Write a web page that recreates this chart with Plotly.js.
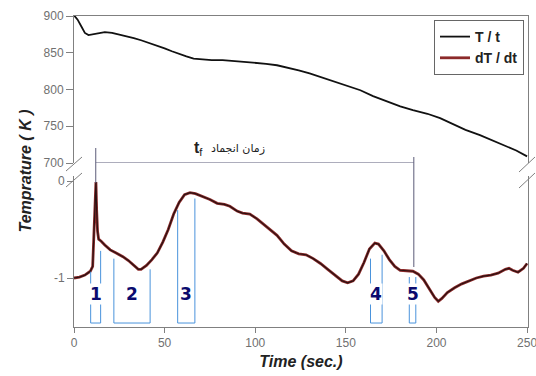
<!DOCTYPE html>
<html>
<head>
<meta charset="utf-8">
<script src="https://cdn.plot.ly/plotly-3.0.1.min.js"></script>
<style>html,body{margin:0;padding:0;background:#fff;}#chart{width:536px;height:376px;}</style>
</head>
<body>
<div id="chart"></div>
<script>
// ---------------- data ----------------
var tempTime = [0,2,4,6,8,10,13,17,21,25,29,33,37,42,46,50,54,58,62,66,70,76,82,88,94,100,106,112,118,124,130,136,143,150,158,165,172,180,187,195,202,209,216,224,231,238,244,250];
var tempValues = [901,895,886,877,874,875,877,878,877,875,873,870,867,863,860,856,852,848,845,842,841,840,840,839,838,836,835,833,830,826,822,817,812,806,799,791,784,777,772,767,761,753,745,738,731,724,717,709];

var rateTime = [0,3,6,9,10.3,11,11.6,12.1,12.5,13,13.6,15,17,20,23,27,30,33,35.5,37,40,43,46,49,52,55,58,61,64,67,71,75,79,83,86,90,93,97,101,105,109,112,116,120,124,128,132,136,140,144,148,151,154,157,160,163,166,168,171,174,177,180,184,187,190,193,196,199,201,203,206,210,214,218,222,226,230,234,238,240,242,245,248,250];
var rateValues = [-1.00,-0.99,-0.97,-0.93,-0.88,-0.60,-0.30,-0.01,-0.30,-0.52,-0.60,-0.62,-0.66,-0.71,-0.74,-0.78,-0.82,-0.87,-0.91,-0.91,-0.87,-0.81,-0.74,-0.63,-0.50,-0.34,-0.22,-0.14,-0.12,-0.13,-0.16,-0.19,-0.23,-0.24,-0.26,-0.31,-0.33,-0.34,-0.39,-0.45,-0.51,-0.56,-0.65,-0.72,-0.75,-0.76,-0.80,-0.85,-0.91,-0.97,-1.03,-1.05,-1.03,-0.96,-0.84,-0.70,-0.64,-0.65,-0.72,-0.81,-0.88,-0.92,-0.93,-0.93,-0.96,-1.02,-1.11,-1.20,-1.24,-1.21,-1.15,-1.10,-1.06,-1.03,-1.00,-0.98,-0.97,-0.95,-0.91,-0.90,-0.92,-0.94,-0.90,-0.85];

var seriesNames = ['T / t', 'dT / dt'];

// freezing-time marker
var tfStart = 12;
var tfEnd = 187.5;
var tfLabel = 'زمان انجماد';

// numbered regions (brackets)
var regionLabels = ['1','2','3','4','5'];
var regionStart = [9.2, 22, 57.2, 163.6, 185];
var regionEnd = [14.7, 42, 66.7, 170, 188.6];
var regionLeftTop = [-0.935, -0.80, -0.30, -0.80, -0.99];
var regionRightTop = [-0.72, -0.91, -0.18, -0.76, -0.99];
var regionBottom = -1.464;
var regionLabelLevel = -1.165;

// tick labels
var xTicks = [0,50,100,150,200,250];
var tempTicks = [700,750,800,850,900];
var rateTicks = [0,-1];
var rateTickText = ['0','-1'];

// ---------------- layout helpers ----------------
var W = 536, H = 376, L = 74, R = 8, T = 16, B = 49;
var pw = W - L - R, ph = H - T - B;
function px(x){ return (x - L) / pw; }
function py(y){ return (H - B - y) / ph; }

var axisGray = '#808080';
var tickFont = {family:'Liberation Sans, Arial, sans-serif', size:12, color:'#707070'};

var traces = [];
traces.push({x: tempTime, y: tempValues, xaxis:'x2', yaxis:'y2', type:'scatter', mode:'lines',
  name: seriesNames[0], line:{color:'#111111', width:1.8}, legendrank:1});
traces.push({x: rateTime, y: rateValues, xaxis:'x', yaxis:'y', type:'scatter', mode:'lines',
  name: seriesNames[1], line:{color:'#8c2a2a', width:2.8}, legendrank:2});
traces.push({x: rateTime, y: rateValues, xaxis:'x', yaxis:'y', type:'scatter', mode:'lines',
  showlegend:false, hoverinfo:'skip', line:{color:'#2b1212', width:1.2}});

var annotations = [];
for (var i = 0; i < regionLabels.length; i++) {
  traces.push({
    x: [regionStart[i], regionStart[i], regionEnd[i], regionEnd[i]],
    y: [regionLeftTop[i], regionBottom, regionBottom, regionRightTop[i]],
    xaxis:'x', yaxis:'y', type:'scatter', mode:'lines', showlegend:false, hoverinfo:'skip',
    line:{color:'#4a93dc', width:1}
  });
  annotations.push({
    x: (regionStart[i] + regionEnd[i]) / 2, y: regionLabelLevel, xref:'x', yref:'y',
    xanchor:'center', yanchor:'middle',
    text: '<b>' + regionLabels[i] + '</b>', showarrow:false, bgcolor:'#ffffff', borderpad:0,
    font:{family:'DejaVu Sans, sans-serif', size:17, color:'#0b0b6e'}
  });
}

annotations.push({
  x: px(24.5), y: py(171), xref:'paper', yref:'paper', textangle:-90, showarrow:false,
  xanchor:'center', yanchor:'middle',
  text:'<b><i>Temprature ( K )</i></b>',
  font:{family:'Liberation Sans, Arial, sans-serif', size:16, color:'#222222'}
});
annotations.push({
  x: px(198), y: py(149), xref:'paper', yref:'paper', showarrow:false,
  xanchor:'center', yanchor:'middle',
  text:'<b>t</b><sub>f</sub>',
  font:{family:'Liberation Sans, Arial, sans-serif', size:16, color:'#222222'}
});
annotations.push({
  x: px(238), y: py(148), xref:'paper', yref:'paper', showarrow:false,
  xanchor:'center', yanchor:'middle',
  text: tfLabel,
  font:{family:'DejaVu Sans, sans-serif', size:11, color:'#222222'}
});

var markerColor = '#5b5b78';
var shapes = [
  {type:'line', xref:'x', yref:'y2', x0:tfStart, x1:tfEnd, y0:700, y1:700, line:{color:markerColor, width:1}},
  {type:'line', xref:'x', yref:'paper', x0:tfStart, x1:tfStart, y0:py(148), y1:py(183), line:{color:markerColor, width:1}},
  {type:'line', xref:'x', yref:'paper', x0:tfEnd, x1:tfEnd, y0:py(157), y1:py(267), line:{color:markerColor, width:1}},
  // axis break marks
  {type:'line', xref:'paper', yref:'paper', x0:px(66), y0:py(171), x1:px(82), y1:py(157), line:{color:axisGray, width:1}},
  {type:'line', xref:'paper', yref:'paper', x0:px(66), y0:py(187), x1:px(82), y1:py(173), line:{color:axisGray, width:1}},
  {type:'line', xref:'paper', yref:'paper', x0:px(519), y0:py(172), x1:px(535), y1:py(157), line:{color:axisGray, width:1}},
  {type:'line', xref:'paper', yref:'paper', x0:px(519), y0:py(188), x1:px(535), y1:py(173), line:{color:axisGray, width:1}}
];

var layout = {
  width: W, height: H,
  margin: {l:L, r:R, t:T, b:B, pad:0},
  paper_bgcolor:'#ffffff', plot_bgcolor:'#ffffff',
  showlegend: true,
  legend: {x: px(524), y: py(20), xanchor:'right', yanchor:'top', bgcolor:'#ffffff',
    bordercolor:'#666666', borderwidth:1,
    font:{family:'Liberation Sans, Arial, sans-serif', size:14, color:'#222222', weight:'bold'}},
  xaxis: {domain:[0,1], range:[0,250.5], anchor:'y', showline:true, linecolor:axisGray, linewidth:1,
    ticks:'outside', ticklen:5, tickcolor:axisGray, tickmode:'array', tickvals:xTicks,
    ticklabeloverflow:'allow',
    tickfont:tickFont, showgrid:false, zeroline:false,
    title:{text:'<b><i>Time (sec.)</i></b>', font:{family:'Liberation Sans, Arial, sans-serif', size:16, color:'#222222'}, standoff:6}},
  xaxis2: {matches:'x', anchor:'y2', side:'top', showline:true, linecolor:axisGray, linewidth:1,
    ticks:'', showticklabels:false, showgrid:false, zeroline:false},
  yaxis: {domain:[0, py(176)], range:[-1.505, 0.052], anchor:'x', showline:true, mirror:true,
    linecolor:axisGray, linewidth:1, ticks:'outside', ticklen:6, tickcolor:axisGray,
    tickmode:'array', tickvals:rateTicks, ticktext:rateTickText, tickfont:tickFont,
    showgrid:false, zeroline:false},
  yaxis2: {domain:[py(163), 1], range:[700, 900], anchor:'x2', showline:true, mirror:true,
    linecolor:axisGray, linewidth:1, ticks:'outside', ticklen:7, tickcolor:axisGray,
    tickmode:'array', tickvals:tempTicks, tickfont:tickFont, showgrid:false, zeroline:false},
  annotations: annotations,
  shapes: shapes
};

Plotly.newPlot('chart', traces, layout, {displayModeBar:false, staticPlot:true});
</script>
</body>
</html>
